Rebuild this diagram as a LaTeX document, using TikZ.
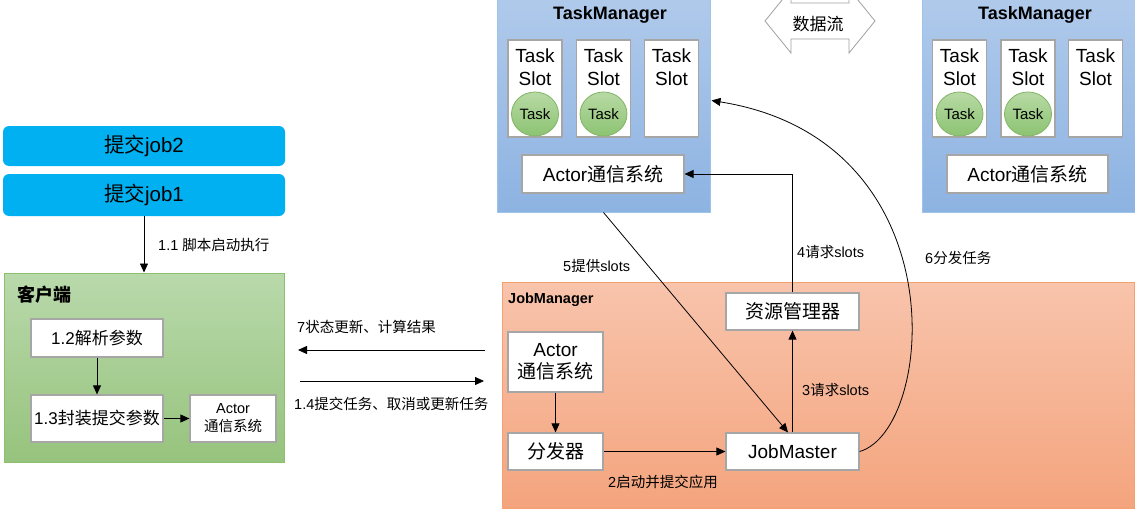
\documentclass[tikz,border=0pt]{standalone}
\usepackage{fontspec}
\setmainfont{Liberation Sans}
\newfontfamily\cjk{Noto Sans CJK SC}
\usetikzlibrary{arrows.meta,shapes.geometric,calc}
\definecolor{jobblue}{HTML}{00B0F0}
\definecolor{tmtop}{HTML}{B0CAEB}
\definecolor{tmbot}{HTML}{8DB3E2}
\definecolor{tmborder}{HTML}{9DC3E6}
\definecolor{cltop}{HTML}{B9D9AB}
\definecolor{clbot}{HTML}{96C37D}
\definecolor{clborder}{HTML}{8CBF6E}
\definecolor{jmtop}{HTML}{F8C4AC}
\definecolor{jmbot}{HTML}{F4A47D}
\definecolor{jmborder}{HTML}{F4A070}
\definecolor{boxborder}{HTML}{A6A6A6}
\definecolor{tasktop}{HTML}{B8DAA5}
\definecolor{taskbot}{HTML}{8CC372}
\definecolor{taskborder}{HTML}{82B366}
\definecolor{darrow}{HTML}{A0A0A0}
\begin{document}
\begin{tikzpicture}[x=1pt,y=-1pt,
  wbox/.style={draw=boxborder, line width=1.2pt, fill=white, inner sep=0pt, align=center, font=\fontsize{19}{23}\selectfont},
  slotbox/.style={draw=boxborder, line width=1.2pt, fill=white, inner sep=0pt, minimum width=54pt, minimum height=97pt},
  slottext/.style={inner sep=0pt, align=center, font=\fontsize{19}{23}\selectfont},
  taskell/.style={ellipse, draw=taskborder, line width=0.8pt, top color=tasktop, bottom color=taskbot, minimum width=47pt, minimum height=44pt, inner sep=0pt, font=\fontsize{15}{18}\selectfont},
  jobbox/.style={fill=jobblue, rounded corners=6pt, minimum width=282pt, inner sep=0pt, font=\fontsize{20.5}{24}\selectfont},
  tmbox/.style={draw=tmborder, line width=1pt, top color=tmtop, bottom color=tmbot, minimum width=213pt, minimum height=217pt, inner sep=0pt},
  arr/.style={-{Triangle[length=9pt,width=8pt]}, line width=0.8pt},
  lbl/.style={font=\fontsize{14.5}{17}\selectfont, inner sep=0pt, anchor=west},
  title/.style={font=\bfseries\fontsize{18}{21}\selectfont, inner sep=0pt}
]
\useasboundingbox (0,0) rectangle (1135,511);

% ---------- jobs ----------
\node[jobbox, minimum height=40pt] (job2) at (144,146) {{\cjk 提交}job2};
\node[jobbox, minimum height=42pt] (job1) at (144,195) {{\cjk 提交}job1};

% ---------- client ----------
\node[draw=clborder, line width=1pt, top color=cltop, bottom color=clbot, minimum width=280pt, minimum height=189pt, inner sep=0pt] (client) at (144,367.5) {};
\node[title, anchor=west] (clienttitle) at (17,295) {\cjk\bfseries 客户端};
\node[wbox, minimum width=132pt, minimum height=38pt, font=\fontsize{17}{20}\selectfont] (c12) at (97,338) {1.2{\cjk 解析参数}};
\node[wbox, minimum width=132pt, minimum height=47pt, font=\fontsize{17}{20}\selectfont] (c13) at (97,418.5) {1.3{\cjk 封装提交参数}};
\node[wbox, minimum width=86pt, minimum height=47pt, font=\fontsize{14.5}{18}\selectfont] (cact) at (233,418.5) {Actor\\{\cjk 通信系统}};

\draw[arr] (job1.south) -- (client.north);
\node[lbl] (l11) at (158,245) {1.1 {\cjk 脚本启动执行}};
\draw[arr] (c12) -- (c13);
\draw[arr] (c13) -- (cact);

% ---------- job manager ----------
\node[draw=jmborder, line width=1pt, top color=jmtop, bottom color=jmbot, minimum width=632pt, minimum height=226pt, inner sep=0pt] (jm) at (818,395) {};
\node[title, anchor=west, font=\bfseries\fontsize{14.5}{17}\selectfont] (jmtitle) at (508,300) {JobManager};
\node[wbox, minimum width=95pt, minimum height=60pt] (jmact) at (555.5,362) {Actor\\[-1pt]{\cjk 通信系统}};
\node[wbox, minimum width=95pt, minimum height=37pt] (disp) at (555.5,451.5) {\cjk 分发器};
\node[wbox, minimum width=133pt, minimum height=37pt] (jmaster) at (792.5,451.5) {JobMaster};
\node[wbox, minimum width=133pt, minimum height=37pt] (rm) at (792.5,311.5) {\cjk 资源管理器};

% ---------- task managers ----------
\node[tmbox] (tm1) at (603.5,103.5) {};
\node[title] (tm1title) at (610,15) {TaskManager};
\node[tmbox] (tm2) at (1028.5,103.5) {};
\node[title] (tm2title) at (1035,15) {TaskManager};

\foreach \n/\x in {a/535, b/603.5, c/671.5, d/959.5, e/1028, f/1095.5}{
  \node[slotbox] (slot\n) at (\x,88.5) {};
  \node[slottext] (slottext\n) at (\x,67) {Task\\Slot};
}
\foreach \n/\x in {a/535, b/603.5, d/959.5, e/1028}{
  \node[taskell] (task\n) at (\x,114) {Task};
}
\node[wbox, minimum width=162pt, minimum height=38pt] (tm1act) at (603,174) {Actor{\cjk 通信系统}};
\node[wbox, minimum width=161pt, minimum height=38pt] (tm2act) at (1027.5,174) {Actor{\cjk 通信系统}};

% ---------- data flow double arrow ----------
\draw[draw=darrow, fill=white, line width=0.8pt] (765,21) -- (791,-11) -- (791,3) -- (849,3) -- (849,-11) -- (875,21) -- (849,53) -- (849,39) -- (791,39) -- (791,53) -- cycle;
\node[inner sep=0pt, font=\fontsize{17}{20}\selectfont] (dataflow) at (818,24) {\cjk 数据流};

% ---------- connectors ----------
\draw[arr] (jmact) -- (disp);
\draw[arr] (disp) -- (jmaster);
\node[lbl] (l2) at (608,482) {2{\cjk 启动并提交应用}};
\draw[arr] (jmaster.north) -- (rm.south);
\node[lbl] (l3) at (802,390) {3{\cjk 请求}slots};
\draw[arr] (rm.north) |- (tm1act.east);
\node[lbl] (l4) at (797,252) {4{\cjk 请求}slots};
\draw[arr] (tm1.south) -- ($(jmaster.north)+(-4.5,0)$);
\node[lbl] (l5) at (563,266) {5{\cjk 提供}slots};
\draw[arr] (jmaster.east) .. controls (935,430) and (960,140) .. ($(tm1.east)+(1,-3)$);
\node[lbl] (l6) at (925,258) {6{\cjk 分发任务}};

\coordinate (r7) at (485,350);
\coordinate (l7end) at (298,350);
\draw[arr] (r7) -- (l7end);
\node[lbl] (l7) at (297,327) {7{\cjk 状态更新、计算结果}};
\coordinate (l14start) at (300,381);
\coordinate (r14) at (484,381);
\draw[arr] (l14start) -- (r14);
\node[lbl] (l14) at (294,404) {1.4{\cjk 提交任务、取消或更新任务}};
\end{tikzpicture}
\end{document}
